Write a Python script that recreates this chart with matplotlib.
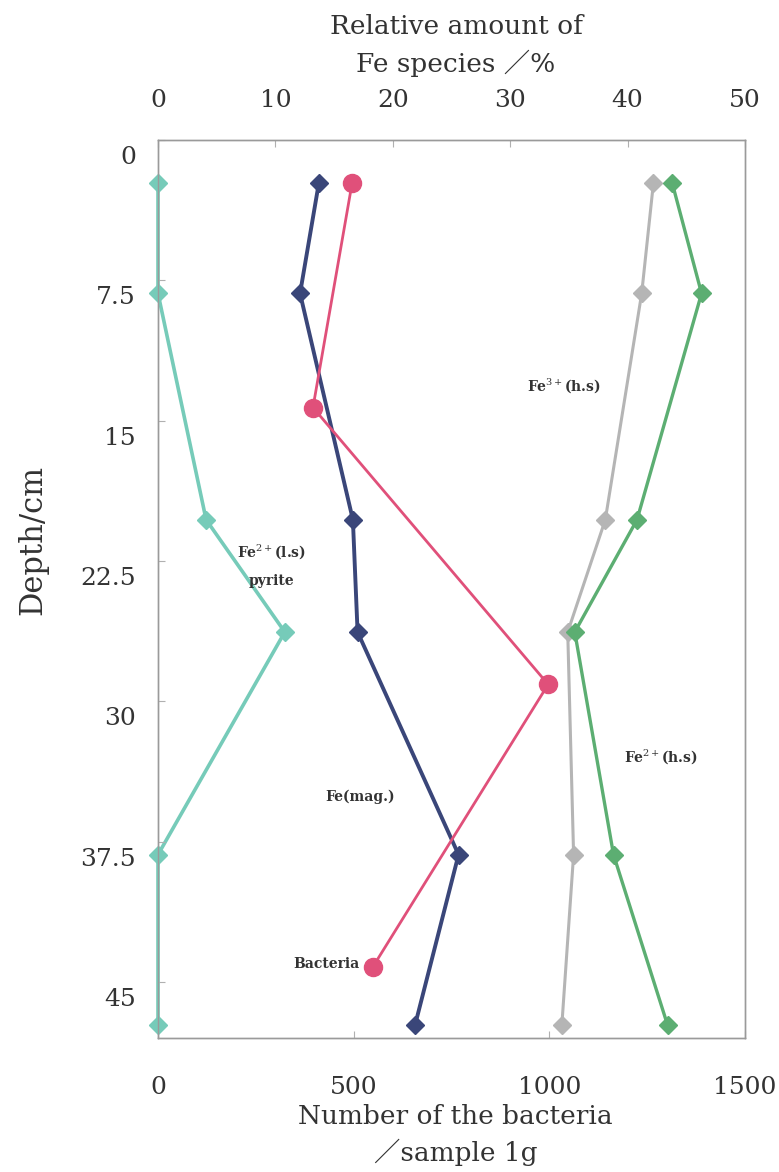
import matplotlib
matplotlib.use("Agg")
import matplotlib.pyplot as plt
from matplotlib.transforms import ScaledTranslation

# depth (cm) of the Fe species samples and of the bacteria counts
fe_depth = [2.3, 8.2, 20.3, 26.3, 38.2, 47.3]
bact_depth = [2.3, 14.3, 29.1, 44.2]

# relative amount of Fe species (%)
fe2_ls = [0.0, 0.0, 4.1, 10.8, 0.0, 0.0]
fe_mag = [13.7, 12.1, 16.6, 17.0, 25.6, 21.9]
fe3_hs = [42.2, 41.2, 38.1, 34.9, 35.4, 34.4]
fe2_hs = [43.8, 46.3, 40.8, 35.5, 38.8, 43.4]

# number of bacteria per 1 g sample
bacteria = [496, 396, 997, 549]

depth_ticks = [0, 7.5, 15, 22.5, 30, 37.5, 45]
pct_ticks = [0, 10, 20, 30, 40, 50]
count_ticks = [0, 500, 1000, 1500]

SERIF = ["DejaVu Serif", "Noto Sans CJK JP"]
plt.rcParams["font.family"] = SERIF
plt.rcParams["mathtext.fontset"] = "dejavuserif"

W, H = 779, 1172
fig = plt.figure(figsize=(W / 100, H / 100), dpi=100)
ax = fig.add_axes([158 / W, 1 - 1038 / H, (745 - 158) / W, (1038 - 140) / H])
ax2 = ax.twiny()

ax.set_xlim(0, 1500)
ax.set_ylim(48, 0)
ax2.set_xlim(0, 50)

for a in (ax, ax2):
    for s in a.spines.values():
        s.set_color("#9a9a9a")
        s.set_linewidth(1.0)

ax.set_xticks(count_ticks)
ax.set_xticklabels([str(v) for v in count_ticks])
ax.set_yticks(depth_ticks)
ax.set_yticklabels(["0", "7.5", "15", "22.5", "30", "37.5", "45"])
ax2.set_xticks(pct_ticks)

ax.tick_params(axis="x", direction="in", length=5, color="#b0b0b0",
               labelsize=18, pad=27, labelcolor="#333333")
ax.tick_params(axis="y", direction="in", length=5, color="#b0b0b0",
               labelsize=18, pad=16, labelcolor="#333333")
ax2.tick_params(axis="x", direction="in", length=5, color="#b0b0b0",
                labelsize=18, pad=20, labelcolor="#333333")

# depth labels sit a little below their tick marks
shift = ScaledTranslation(0, -15 / 100, fig.dpi_scale_trans)
for lab in ax.get_yticklabels():
    lab.set_transform(lab.get_transform() + shift)

# Fe species on the upper (%) axis
style = dict(marker="D", ms=9, clip_on=False)
ax2.plot(fe2_ls, fe_depth, color="#76cbb9", lw=2.6, mec="#76cbb9", zorder=3, **style)
ax2.plot(fe_mag, fe_depth, color="#3a4679", lw=2.8, mec="#3a4679", zorder=4, **style)
ax2.plot(fe3_hs, fe_depth, color="#b5b5b5", lw=2.2, mec="#b5b5b5", zorder=3, **style)
ax2.plot(fe2_hs, fe_depth, color="#5cae72", lw=2.4, mec="#5cae72", zorder=3, **style)

# bacteria on the lower (count) axis
ax.plot(bacteria, bact_depth, color="#e0507a", lw=2.0, marker="o", ms=13,
        mec="#e0507a", zorder=5, clip_on=False)
ax.set_zorder(ax2.get_zorder() + 1)
ax.patch.set_visible(False)

txt = dict(fontsize=10, color="#333333", fontweight="bold", ha="center", va="center")
fig.text(564 / W, 1 - 386 / H, r"Fe$^{3+}$(h.s)", **txt)
fig.text(271 / W, 1 - 552 / H, r"Fe$^{2+}$(l.s)", **txt)
fig.text(271 / W, 1 - 581 / H, "pyrite", **txt)
fig.text(360 / W, 1 - 797 / H, "Fe(mag.)", **txt)
fig.text(326 / W, 1 - 964 / H, "Bacteria", **txt)
fig.text(661 / W, 1 - 757 / H, r"Fe$^{2+}$(h.s)", **txt)

lab = dict(fontsize=19, color="#333333", ha="center", va="center")
fig.text(456 / W, 1 - 27 / H, "Relative amount of", **lab)
fig.text(456 / W, 1 - 63 / H, "Fe species ／%", **lab)
fig.text(455 / W, 1 - 1117 / H, "Number of the bacteria", **lab)
fig.text(456 / W, 1 - 1152 / H, "／sample 1g", **lab)
fig.text(33 / W, 1 - 540 / H, "Depth/cm", rotation=90,
         **{**lab, "fontsize": 22})

fig.savefig("out.png", dpi=100)
